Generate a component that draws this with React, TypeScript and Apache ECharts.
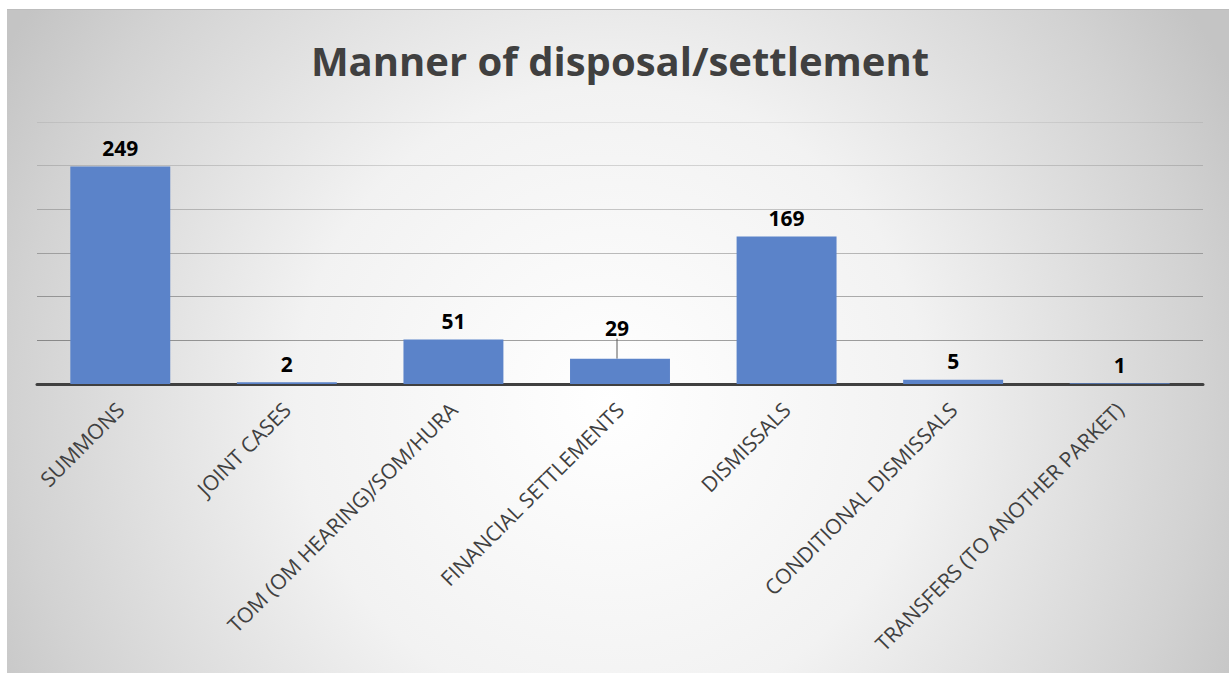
import React, { useEffect, useRef } from "react";
import * as echarts from "echarts";

const titleText = "Manner of disposal/settlement";
const categories = [
  "SUMMONS",
  "JOINT CASES",
  "TOM (OM HEARING)/SOM/HURA",
  "FINANCIAL SETTLEMENTS",
  "DISMISSALS",
  "CONDITIONAL DISMISSALS",
  "TRANSFERS (TO ANOTHER PARKET)",
];
const values = [249, 2, 51, 29, 169, 5, 1];
const movedLabelIndex = 3;
const yMin = 0;
const yMax = 300;
const yInterval = 50;

export default function App() {
  const ref = useRef<HTMLDivElement>(null);
  useEffect(() => {
    if (!ref.current) return;
    const chart = echarts.init(ref.current, undefined, { renderer: "svg" });
    const seriesData = values.map((v, i) =>
      i === movedLabelIndex
        ? { value: v, labelLine: { show: true, lineStyle: { color: "#595959", width: 1 } } }
        : { value: v }
    );
    chart.setOption({
      animation: false,
      backgroundColor: "transparent",
      graphic: [
        {
          type: "text",
          x: 620,
          y: 60,
          style: {
            text: titleText,
            textAlign: "center",
            textVerticalAlign: "middle",
            fontFamily: "Open Sans",
            fontWeight: "bold",
            fontSize: 40,
            fill: "#404040",
          },
        },
      ],
      grid: { left: 37, right: 26, top: 122, bottom: 289, containLabel: false },
      xAxis: {
        type: "category",
        data: categories,
        axisLine: { show: true, lineStyle: { color: "#404040", width: 3 } },
        axisTick: { show: false },
        axisLabel: {
          interval: 0,
          rotate: 45,
          margin: 22,
          fontSize: 21,
          fontFamily: "Open Sans",
          color: "#404040",
        },
      },
      yAxis: {
        type: "value",
        min: yMin,
        max: yMax,
        interval: yInterval,
        axisLabel: { show: false },
        axisLine: { show: false },
        axisTick: { show: false },
        splitLine: {
          show: true,
          lineStyle: {
            width: 1,
            color: [
              "rgba(0,0,0,0.4)",
              "rgba(0,0,0,0.36)",
              "rgba(0,0,0,0.3)",
              "rgba(0,0,0,0.25)",
              "rgba(0,0,0,0.2)",
              "rgba(0,0,0,0.14)",
              "rgba(0,0,0,0.07)",
            ],
          },
        },
      },
      series: [
        {
          type: "bar",
          data: seriesData,
          barCategoryGap: "40%",
          itemStyle: {
            color: "#5B83C9",
          },
          label: {
            show: true,
            position: "top",
            distance: 8,
            fontSize: 21,
            fontWeight: "bold",
            fontFamily: "Open Sans",
            color: "#000000",
          },
          labelLayout: (params: any) =>
            params.dataIndex === movedLabelIndex ? { dx: -3, dy: -12 } : {},
          labelLine: { show: false },
        },
      ],
    });
    return () => chart.dispose();
  }, []);

  return (
    <div
      style={{
        position: "fixed",
        left: 0,
        top: 0,
        width: 1229,
        height: 673,
        background: "#ffffff",
        overflow: "hidden",
      }}
    >
      <div
        style={{
          position: "absolute",
          left: 7,
          top: 9,
          width: 1222,
          height: 664,
          boxSizing: "border-box",
          borderTop: "1px solid #bdbdbd",
          background:
            "radial-gradient(circle 700px at 603px 391px, #ffffff 0%, #f2f2f2 45%, #d2d2d2 85%, #c4c4c4 100%)",
        }}
      />
      <div
        ref={ref}
        style={{ position: "absolute", left: 0, top: 0, width: 1229, height: 673 }}
      />
    </div>
  );
}
